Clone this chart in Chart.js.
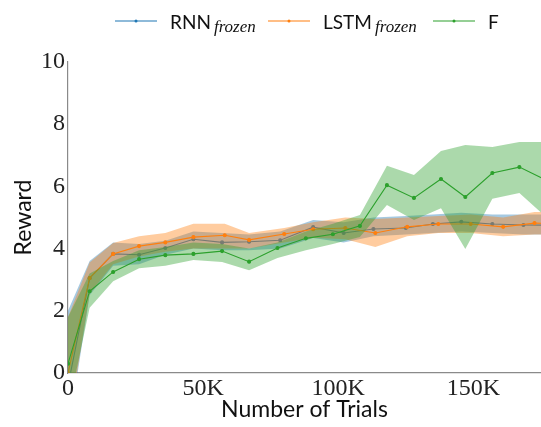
<!DOCTYPE html>
<html>
<head>
<meta charset="utf-8">
<script src="https://cdn.jsdelivr.net/npm/chart.js@4"></script>
<style>
  body { margin: 0; background: #fff; overflow: hidden; }
  #wrap { width: 541px; height: 427px; }
  canvas { display: block; }
</style>
</head>
<body>
<div id="wrap"><canvas id="chart" width="541" height="427"></canvas></div>
<script>
// trials in thousands
const rnnTrials = [0, 8, 16.7, 26.3, 36, 46.4, 57, 67, 78.5, 90.7, 102, 113, 125, 135, 145.5, 157, 168.5, 180];
const rnnMean   = [-0.4, 3.05, 3.83, 3.8, 4.02, 4.3, 4.2, 4.22, 4.27, 4.69, 4.5, 4.63, 4.66, 4.79, 4.86, 4.79, 4.76, 4.75];
const rnnUpper  = [2.0, 3.6, 4.2, 4.15, 4.25, 4.55, 4.5, 4.45, 4.55, 4.92, 4.85, 5.0, 5.05, 5.1, 5.15, 5.1, 5.1, 5.1];
const rnnLower  = [-2.0, 2.5, 3.45, 3.5, 3.8, 4.0, 3.95, 3.95, 4.0, 4.34, 4.2, 4.4, 4.45, 4.5, 4.55, 4.5, 4.45, 4.45];

const lstmTrials = [0, 8, 16.7, 26.3, 36, 46.4, 58, 67, 80, 90.7, 102.6, 113.7, 125.5, 137, 149, 161, 172.6, 184];
const lstmMean   = [0, 3.05, 3.83, 4.08, 4.2, 4.37, 4.43, 4.28, 4.47, 4.62, 4.66, 4.5, 4.7, 4.79, 4.79, 4.7, 4.82, 4.8];
const lstmUpper  = [1.8, 3.55, 4.18, 4.4, 4.5, 4.8, 4.8, 4.5, 4.66, 4.85, 5.0, 4.95, 5.0, 5.05, 5.1, 5.0, 5.18, 5.15];
const lstmLower  = [-1.8, 2.55, 3.5, 3.75, 3.9, 4.0, 4.0, 4.0, 4.2, 4.35, 4.3, 4.05, 4.4, 4.5, 4.5, 4.4, 4.45, 4.45];

const fTrials = [0, 8, 16.7, 26.3, 36, 46.4, 57, 67, 77.5, 88, 98, 108, 118, 128, 138, 147, 157, 167, 177];
const fMean   = [0.3, 2.63, 3.25, 3.66, 3.79, 3.83, 3.92, 3.58, 4.02, 4.33, 4.46, 4.73, 6.04, 5.63, 6.24, 5.66, 6.43, 6.62, 6.2];
const fUpper  = [1.8, 3.2, 3.6, 3.95, 4.05, 4.2, 4.15, 4.0, 4.2, 4.55, 4.8, 5.08, 6.66, 6.37, 7.14, 7.33, 7.27, 7.43, 7.43];
const fLower  = [-1.2, 2.1, 2.95, 3.37, 3.45, 3.63, 3.57, 3.3, 3.7, 3.95, 4.15, 4.37, 5.4, 4.92, 5.3, 3.99, 5.6, 5.79, 5.0];

const xTicks = [0, 50, 100, 150];
const yTicks = [0, 2, 4, 6, 8, 10];

const BLUE = '#1f77b4', ORANGE = '#ff7f0e', GREEN = '#2ca02c';

function pts(xs, ys) {
    return xs.map((x, i) => ({ x: x, y: ys[i] }));
}

// mean line + shaded band (upper, then lower filled to upper)
function series(xs, mean, upper, lower, color, band, order) {
    return [
        {
            data: pts(xs, mean), borderColor: color, backgroundColor: color,
            borderWidth: 1.1, pointRadius: 1.5, pointHoverRadius: 1.5, fill: false, order: order + 1
        },
        {
            data: pts(xs, upper), borderWidth: 0, pointRadius: 0, fill: false, order: order
        },
        {
            data: pts(xs, lower), borderWidth: 0, pointRadius: 0, backgroundColor: band, fill: '-1', order: order
        }
    ];
}

const legendItems = [
    { x: 115, color: BLUE, main: 'RNN', sub: 'frozen' },
    { x: 268, color: ORANGE, main: 'LSTM', sub: 'frozen' },
    { x: 433, color: GREEN, main: 'F', sub: '' }
];

const legendPlugin = {
    id: 'texLegend',
    afterDraw(chart) {
        const ctx = chart.ctx;
        ctx.save();
        legendItems.forEach(item => {
            ctx.strokeStyle = item.color;
            ctx.lineWidth = 1.1;
            ctx.beginPath();
            ctx.moveTo(item.x, 21);
            ctx.lineTo(item.x + 42, 21);
            ctx.stroke();
            ctx.fillStyle = item.color;
            ctx.beginPath();
            ctx.arc(item.x + 21, 21, 1.5, 0, Math.PI * 2);
            ctx.fill();
            ctx.fillStyle = '#111';
            ctx.textBaseline = 'alphabetic';
            ctx.font = '19px Lato';
            const tx = item.x + 55;
            ctx.fillText(item.main, tx, 29);
            if (item.sub) {
                const w = ctx.measureText(item.main).width;
                ctx.font = 'italic 17px "Liberation Serif"';
                ctx.fillText(item.sub, tx + w + 3, 32);
            }
        });
        ctx.restore();
    }
};

new Chart(document.getElementById('chart'), {
    type: 'line',
    data: {
        datasets: [
            ...series(rnnTrials, rnnMean, rnnUpper, rnnLower, BLUE, 'rgba(31,119,180,0.4)', 5),
            ...series(lstmTrials, lstmMean, lstmUpper, lstmLower, ORANGE, 'rgba(255,127,14,0.4)', 3),
            ...series(fTrials, fMean, fUpper, fLower, GREEN, 'rgba(44,160,44,0.4)', 1)
        ]
    },
    options: {
        responsive: false,
        animation: false,
        layout: { autoPadding: false, padding: { top: 62, right: 0, left: 0, bottom: 0 } },
        elements: { line: { tension: 0 } },
        plugins: {
            legend: { display: false },
            tooltip: { enabled: false }
        },
        scales: {
            x: {
                type: 'linear', min: 0, max: 175,
                afterBuildTicks: s => { s.ticks = xTicks.map(v => ({ value: v })); },
                afterFit: s => { s.height = 54; s.paddingRight = 0; s.paddingLeft = 0; },
                grid: { display: false, drawTicks: false },
                border: { display: true, color: '#8a8a8a', width: 1.2 },
                ticks: {
                    padding: 1, color: '#222', maxRotation: 0,
                    font: { family: 'Liberation Serif', size: 24 },
                    callback: v => v === 0 ? '0' : v + 'K'
                },
                title: {
                    display: true, text: 'Number of Trials', color: '#111',
                    font: { family: 'Lato', size: 23 }, padding: { top: 0, bottom: 4 }
                }
            },
            y: {
                min: 0, max: 10,
                afterBuildTicks: s => { s.ticks = yTicks.map(v => ({ value: v })); },
                afterFit: s => { s.width = 68; },
                grid: { display: false, drawTicks: false },
                border: { display: true, color: '#8a8a8a', width: 1.2 },
                ticks: {
                    padding: 3, color: '#222',
                    font: { family: 'Liberation Serif', size: 24 }
                },
                title: {
                    display: true, text: 'Reward', color: '#111',
                    font: { family: 'Lato', size: 23 }, padding: { top: 10, bottom: 0 }
                }
            }
        }
    },
    plugins: [legendPlugin]
});
</script>
</body>
</html>
